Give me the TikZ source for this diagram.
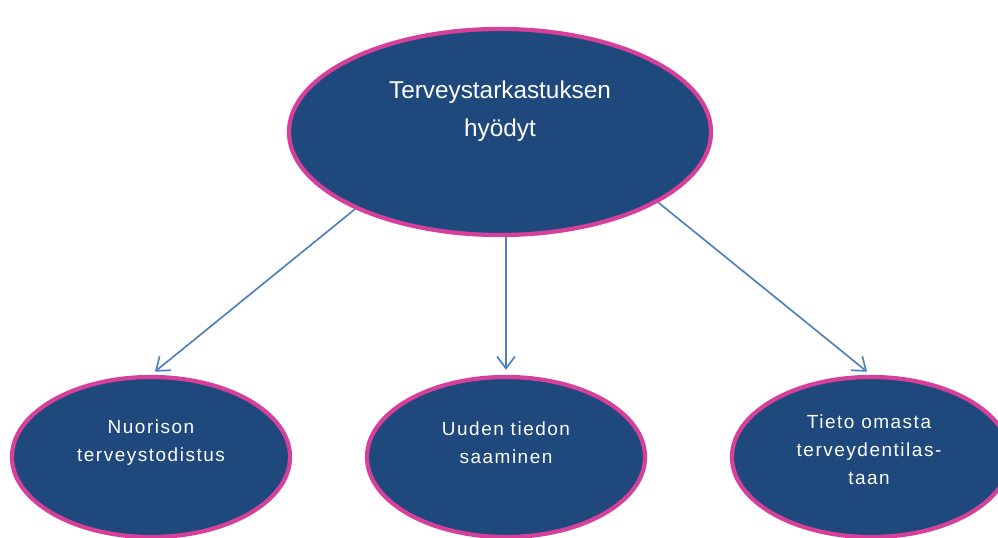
\documentclass[tikz,border=0pt]{standalone}
\usepackage{fontspec}
\setmainfont{Liberation Sans}
\newfontfamily\spacedfont[LetterSpace=8]{Liberation Sans}
\usetikzlibrary{shapes.geometric,arrows.meta}
\definecolor{bubblefill}{RGB}{31,73,125}
\definecolor{bubbleedge}{RGB}{214,64,154}
\definecolor{linkblue}{RGB}{79,129,189}
\tikzset{
  bubble/.style={ellipse, draw=bubbleedge, fill=bubblefill, line width=3pt, inner sep=0pt},
  bigbubble/.style={bubble, minimum width=10.55cm, minimum height=5.15cm},
  smallbubble/.style={bubble, minimum width=6.95cm, minimum height=4cm},
  bigtext/.style={text=white, align=center, font=\fontsize{17.3}{27}\selectfont},
  smalltext/.style={text=white, align=center, font=\spacedfont\fontsize{13.5}{20}\selectfont},
  link/.style={draw=linkblue, line width=1.2pt, -{Straight Barb[length=3mm,width=4.5mm]}, shorten >=1.25mm},
}
\begin{document}
\begin{tikzpicture}[x=0.025cm,y=-0.025cm]
\useasboundingbox (0,0) rectangle (998,538);
% ellipses
\node[bigbubble] (hyodyt) at (500,132) {};
\node[smallbubble] (nuoriso) at (151,457) {};
\node[smallbubble] (tieto) at (506,457) {};
\node[smallbubble] (tila) at (871,457) {};
% texts
\node[bigtext] (hyodytlbl) at (500,111) {Terveystarkastuksen\\hyödyt};
\node[smalltext] (nuorisolbl) at (151,443) {Nuorison\\terveystodistus};
\node[smalltext] (tietolbl) at (506,443) {Uuden tiedon\\saaminen};
\node[smalltext] (tilalbl) at (869,450) {Tieto omasta\\terveydentilas-\\taan};
% arrows
\draw[link] (hyodyt.208) -- (nuoriso.north);
\draw[link] (hyodyt.south -| tieto.north) -- (tieto.north);
\draw[link] (hyodyt.336) -- (tila.north);
\end{tikzpicture}
\end{document}
